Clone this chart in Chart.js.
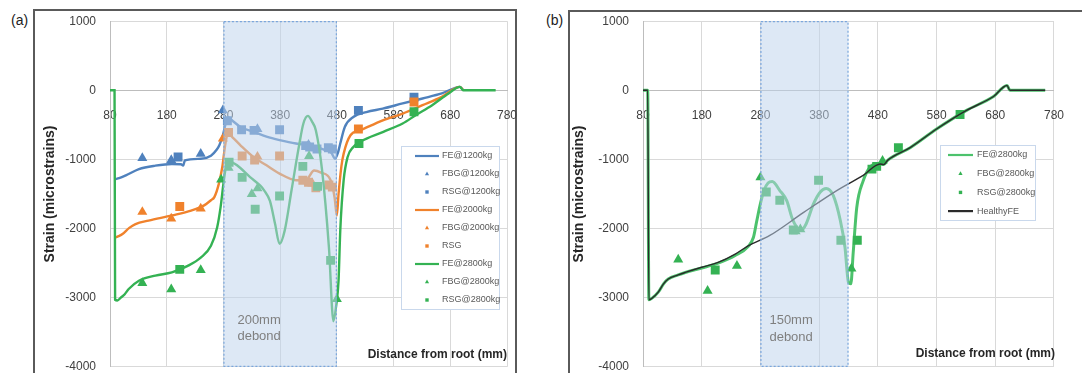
<!DOCTYPE html>
<html>
<head>
<meta charset="utf-8">
<script src="https://cdn.jsdelivr.net/npm/chart.js@4/dist/chart.umd.min.js"></script>
<style>
  body { margin: 0; background: #fff; width: 1082px; height: 373px; overflow: hidden; position: relative; font-family: "Liberation Sans", Arial, sans-serif; }
  .frame { position: absolute; border: 2px solid #5a5a5a; }
  #frameA { left: 33px; top: 9px; width: 480px; height: 420px; }
  #frameB { left: 568px; top: 10px; width: 560px; height: 420px; }
  .tag { position: absolute; font-size: 14px; color: #222; }
  canvas { position: absolute; top: 0; }
</style>
</head>
<body>
<div class="frame" id="frameA"></div>
<div class="frame" id="frameB"></div>
<div class="tag" style="left:11px; top:12px;">(a)</div>
<div class="tag" style="left:546px; top:12px;">(b)</div>
<canvas id="chartA" width="540" height="388" style="left:0"></canvas>
<canvas id="chartB" width="542" height="388" style="left:540px"></canvas>
<script>
// axis ticks (both panels)
const xTicks = [80, 180, 280, 380, 480, 580, 680, 780];
const yTicks = [1000, 0, -1000, -2000, -3000, -4000];

// debond zones [start, end] in mm
const debondA = [280, 480];
const debondB = [280, 430];

// panel (a) - FE curves
const feA1200 = [[89,-1285],[96,-1270],[108,-1230],[131,-1140],[160,-1090],[189,-1065],[205,-1070],[209,-1090],[212,-1015],[240,-990],[258,-945],[268,-860],[273,-790],[279,-650],[284,-480],[288,-390],[296,-440],[310,-530],[333,-600],[356,-670],[379,-720],[408,-770],[437,-800],[458,-860],[470,-900],[477,-990],[482,-900],[486,-770],[494,-530],[509,-385],[532,-315],[561,-265],[596,-190],[631,-118],[665,-45],[697,50],[703,0]];
const feA2000 = [[89,-2130],[95,-2110],[102,-2080],[114,-1990],[125,-1935],[148,-1885],[189,-1810],[223,-1740],[246,-1665],[258,-1590],[264,-1545],[272,-1350],[278,-1110],[283,-800],[288,-620],[296,-680],[310,-795],[333,-965],[356,-1085],[379,-1205],[408,-1300],[425,-1300],[440,-1160],[452,-1190],[469,-1300],[476,-1550],[480,-1810],[483,-1500],[488,-1100],[492,-916],[504,-650],[521,-580],[561,-435],[596,-336],[631,-215],[665,-94],[697,50],[703,0]];
const feA2800 = [[80,0],[88,0],[89,-3030],[93,-3040],[99,-3000],[106,-2950],[113,-2875],[131,-2755],[160,-2680],[189,-2635],[217,-2540],[240,-2420],[258,-2250],[269,-1980],[275,-1690],[280,-1350],[284,-1120],[287,-1015],[295,-1040],[304,-1085],[327,-1255],[345,-1380],[352,-1450],[362,-1600],[371,-1930],[379,-2220],[388,-2030],[400,-1450],[414,-770],[421,-480],[429,-370],[436,-450],[443,-580],[454,-1160],[466,-2270],[474,-3340],[479,-3100],[483,-2750],[486,-2030],[492,-1300],[499,-965],[509,-820],[521,-745],[562,-600],[596,-480],[619,-360],[648,-215],[677,-45],[697,50],[703,0],[760,0]];

// panel (a) - measured points
const fbgA1200 = [[137,-980],[188,-1010],[240,-920],[279,-290],[340,-560],[430,-790]];
const rsgA1200 = [[200,-965],[287,-440],[312,-570],[334,-580],[379,-570],[425,-800],[432,-820],[445,-850],[465,-830],[472,-850],[518,-290],[616,-100]];
const fbgA2000 = [[137,-1760],[188,-1855],[240,-1710],[279,-700],[340,-960],[437,-1350]];
const rsgA2000 = [[203,-1680],[289,-610],[313,-950],[335,-1010],[379,-950],[420,-1300],[430,-1330],[443,-1410],[466,-1370],[472,-1400],[518,-560],[616,-170]];
const fbgA2800 = [[137,-2790],[188,-2880],[240,-2600],[276,-1290],[289,-1120],[330,-1500],[340,-1420],[431,-950],[480,-3020]];
const rsgA2800 = [[203,-2590],[290,-1040],[313,-1260],[336,-1720],[379,-1530],[420,-1100],[446,-1390],[469,-2460],[519,-770],[616,-310]];

// panel (b)
const feB2800 = [[80,0],[88,0],[90,-3030],[95,-3010],[106,-2920],[115,-2800],[123,-2730],[140,-2670],[152,-2635],[180,-2570],[208,-2500],[237,-2390],[259,-2260],[268,-2130],[274,-1880],[280,-1640],[286,-1450],[293,-1340],[300,-1320],[313,-1450],[325,-1600],[334,-1850],[342,-1980],[350,-2020],[358,-1930],[370,-1650],[382,-1470],[392,-1420],[404,-1520],[416,-1880],[424,-2270],[430,-2780],[434,-2800],[438,-2350],[444,-1700],[455,-1310],[467,-1110],[480,-1060],[484,-1065],[490,-1075],[497,-1010],[535,-830],[580,-560],[631,-290],[677,-90],[700,70],[705,0],[765,0]];
const healthyB = [[80,0],[88,0],[90,-3030],[95,-3010],[106,-2920],[115,-2800],[123,-2730],[140,-2670],[152,-2635],[180,-2560],[208,-2490],[237,-2370],[259,-2250],[296,-2100],[353,-1770],[410,-1450],[455,-1230],[484,-1065],[490,-1075],[497,-1010],[535,-830],[580,-560],[631,-290],[677,-90],[700,70],[705,0],[765,0]];
const fbgB2800 = [[140,-2450],[190,-2900],[240,-2540],[280,-1260],[340,-2040],[348,-2010],[435,-2580],[488,-1020]];
const rsgB2800 = [[203,-2600],[290,-1470],[313,-1590],[336,-2020],[379,-1300],[417,-2170],[445,-2170],[470,-1140],[478,-1100],[515,-830],[620,-350]];

const FONT = '"Liberation Sans", Arial, sans-serif';
const blue = '#4f81bd', orange = '#f0822c', green = '#34b253', greenLight = '#4cc26c', dark = '#2a2a2a';

function pts(arr) { return arr.map(p => ({x: p[0], y: p[1]})); }

function lineSet(label, data, color, width) {
    return { label: label, data: pts(data), showLine: true, borderColor: color, backgroundColor: color,
             borderWidth: width, pointRadius: 0, cubicInterpolationMode: 'monotone', kind: 'line' };
}

function markSet(label, data, color, style) {
    return { label: label, data: pts(data), showLine: false, pointStyle: style,
             pointRadius: style === 'rect' ? 6.3 : 5.8, pointHoverRadius: 6,
             backgroundColor: color, borderColor: color, borderWidth: 0, kind: 'mark' };
}

// later series are drawn on top, like the spreadsheet
function stack(sets) {
    sets.forEach((s, i) => { s.order = sets.length - i; });
    return sets;
}

const decor = {
    id: 'decor',
    afterDatasetsDraw(chart, args, o) {
        const ctx = chart.ctx, a = chart.chartArea, x = chart.scales.x;
        const x0 = x.getPixelForValue(o.debond[0]), x1 = x.getPixelForValue(o.debond[1]);
        ctx.save();
        ctx.fillStyle = 'rgba(190,210,236,0.52)';
        ctx.fillRect(x0, a.top, x1 - x0, a.bottom - a.top);
        ctx.setLineDash([2, 2]);
        ctx.strokeStyle = '#7aa6dc';
        ctx.lineWidth = 1.2;
        ctx.strokeRect(x0 + 0.5, a.top + 0.5, x1 - x0 - 1, a.bottom - a.top - 1);
        ctx.setLineDash([]);

        ctx.fillStyle = '#7f7f7f';
        ctx.font = '13px ' + FONT;
        ctx.textAlign = 'left';
        ctx.textBaseline = 'middle';
        o.debondText.forEach((t, i) => ctx.fillText(t, x0 + o.textDx, o.textY[i]));

        ctx.fillStyle = '#262626';
        ctx.font = 'bold 12px ' + FONT;
        ctx.textAlign = 'right';
        ctx.fillText('Distance from root (mm)', o.xTitleX, o.xTitleY);

        // legend box inside the plot
        const L = o.legend;
        ctx.fillStyle = '#fff';
        ctx.fillRect(L.x, L.y, L.w, L.h);
        ctx.strokeStyle = '#c9d8ec';
        ctx.lineWidth = 1;
        ctx.strokeRect(L.x + 0.5, L.y + 0.5, L.w, L.h);
        chart.data.datasets.forEach((ds, i) => {
            const cy = L.y + L.first + i * L.step;
            if (ds.kind === 'line') {
                ctx.strokeStyle = ds.borderColor;
                ctx.lineWidth = 2.2;
                ctx.beginPath();
                ctx.moveTo(L.x + L.line0, cy);
                ctx.lineTo(L.x + L.line1, cy);
                ctx.stroke();
            } else {
                ctx.fillStyle = ds.backgroundColor;
                Chart.helpers.drawPoint(ctx, {pointStyle: ds.pointStyle, radius: 2.4, rotation: 0, borderWidth: 0},
                    L.x + (L.line0 + L.line1) / 2, cy);
            }
            ctx.fillStyle = '#595959';
            ctx.font = '9px ' + FONT;
            ctx.textAlign = 'left';
            ctx.fillText(ds.label, L.x + L.text, cy);
        });
        ctx.restore();
    }
};

function makeChart(id, sets, yWidth, pad, opts) {
    return new Chart(document.getElementById(id), {
        type: 'scatter',
        data: { datasets: stack(sets) },
        options: {
            responsive: false,
            animation: false,
            layout: { padding: pad },
            plugins: { legend: { display: false }, tooltip: { enabled: false }, decor: opts },
            scales: {
                x: {
                    type: 'linear', min: 80, max: 780, position: { y: 0 },
                    afterBuildTicks: s => { s.ticks = xTicks.map(v => ({value: v})); },
                    grid: { color: '#d9d9d9', drawTicks: false },
                    border: { color: '#bdbdbd' },
                    ticks: { padding: 18, color: '#404040', font: { size: 12, family: FONT }, maxRotation: 0, autoSkip: false }
                },
                y: {
                    type: 'linear', min: -4000, max: 1000,
                    afterBuildTicks: s => { s.ticks = yTicks.map(v => ({value: v})); },
                    afterFit: s => { s.width = yWidth; },
                    grid: { color: '#d9d9d9', drawTicks: false },
                    border: { color: '#bdbdbd' },
                    ticks: { padding: opts.yTickPad, color: '#404040', font: { size: 12, family: FONT }, callback: v => String(v) },
                    title: { display: true, text: 'Strain (microstrains)', color: '#262626',
                             font: { size: 14, weight: 'bold', family: FONT }, padding: { top: opts.yTitlePad, bottom: 0 } }
                }
            }
        },
        plugins: [decor]
    });
}

makeChart('chartA', [
    lineSet('FE@1200kg', feA1200, blue, 2.4),
    markSet('FBG@1200kg', fbgA1200, blue, 'triangle'),
    markSet('RSG@1200kg', rsgA1200, blue, 'rect'),
    lineSet('FE@2000kg', feA2000, orange, 2.4),
    markSet('FBG@2000kg', fbgA2000, orange, 'triangle'),
    markSet('RSG', rsgA2000, orange, 'rect'),
    lineSet('FE@2800kg', feA2800, green, 2.4),
    markSet('FBG@2800kg', fbgA2800, green, 'triangle'),
    markSet('RSG@2800kg', rsgA2800, green, 'rect')
], 110, { left: 0, right: 33, top: 21, bottom: 7 }, {
    debond: debondA, debondText: ['200mm', 'debond'], textDx: 14, textY: [320, 336],
    xTitleX: 507, xTitleY: 355, yTickPad: 14, yTitlePad: 42,
    legend: { x: 401, y: 146, w: 98, h: 163, first: 10, step: 18, line0: 14, line1: 38, text: 41 }
});

makeChart('chartB', [
    lineSet('FE@2800kg', feB2800, greenLight, 3),
    markSet('FBG@2800kg', fbgB2800, green, 'triangle'),
    markSet('RSG@2800kg', rsgB2800, green, 'rect'),
    lineSet('HealthyFE', healthyB, dark, 1.4)
], 103, { left: 0, right: 26, top: 21, bottom: 7 }, {
    debond: debondB, debondText: ['150mm', 'debond'], textDx: 9, textY: [320, 337],
    xTitleX: 515, xTitleY: 354, yTickPad: 14, yTitlePad: 31,
    legend: { x: 400, y: 145, w: 95, h: 75, first: 10, step: 18.7, line0: 8, line1: 33, text: 37 }
});
</script>
</body>
</html>
